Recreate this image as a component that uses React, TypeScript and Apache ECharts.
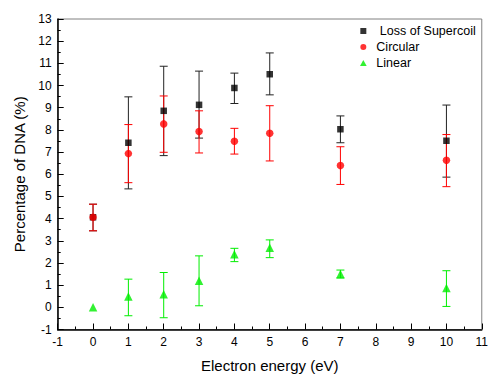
import React, { useEffect, useRef } from "react";
import * as echarts from "echarts";

const energies = [0, 1, 2, 3, 4, 5, 7, 10];
const supercoil = [4.06, 7.42, 8.86, 9.13, 9.89, 10.51, 8.03, 7.51];
const supercoilLow = [3.45, 5.34, 6.84, 7.63, 9.19, 9.58, 7.42, 5.87];
const supercoilHigh = [4.65, 9.49, 10.87, 10.65, 10.56, 11.47, 8.63, 9.12];
const circular = [4.06, 6.93, 8.27, 7.93, 7.49, 7.85, 6.39, 6.63];
const circularLow = [3.45, 5.62, 6.99, 6.96, 6.91, 6.6, 5.54, 5.44];
const circularHigh = [4.65, 8.24, 9.53, 8.86, 8.07, 9.09, 7.24, 7.79];
const linear = [0.0, 0.49, 0.59, 1.2, 2.39, 2.69, 1.5, 0.87];
const linearLow = [0.0, -0.38, -0.47, 0.07, 2.06, 2.24, 1.32, 0.04];
const linearHigh = [0.0, 1.27, 1.57, 2.32, 2.66, 3.04, 1.68, 1.65];

const FONT = "'Liberation Sans', Arial, sans-serif";
const BLACK = "#000000";
const RED = "#ff0000";
const GREEN = "#00ee00";

const ICON_SQUARE = "path://M0,0H10V10H0Z";
const ICON_CIRCLE = "path://M5,0A5,5 0 1,1 5,10A5,5 0 1,1 5,0Z";
const ICON_TRIANGLE = "path://M5,0L10,9L0,9Z";

function errorSeries(name: string, low: number[], high: number[], color: string) {
  return {
    type: "custom",
    name: name + " err",
    silent: true,
    z: 2,
    data: energies.map((x, i) => [x, low[i], high[i]]),
    renderItem: (params: any, api: any) => {
      const x = api.value(0);
      const lo = api.value(1);
      const hi = api.value(2);
      if (lo === hi) return { type: "group", children: [] };
      const pLo = api.coord([x, lo]);
      const pHi = api.coord([x, hi]);
      const hw = 4;
      const style = { stroke: color, lineWidth: 1 };
      return {
        type: "group",
        children: [
          { type: "line", shape: { x1: pLo[0], y1: pLo[1], x2: pHi[0], y2: pHi[1] }, style },
          { type: "line", shape: { x1: pLo[0] - hw, y1: pLo[1], x2: pLo[0] + hw, y2: pLo[1] }, style },
          { type: "line", shape: { x1: pHi[0] - hw, y1: pHi[1], x2: pHi[0] + hw, y2: pHi[1] }, style },
        ],
      };
    },
  };
}

export default function App() {
  const ref = useRef<HTMLDivElement>(null);
  useEffect(() => {
    if (!ref.current) return;
    const chart = echarts.init(ref.current, null, { renderer: "svg" });
    chart.setOption({
      animation: false,
      grid: {
        left: 57.7,
        right: 7,
        top: 19,
        bottom: 45.5,
        show: true,
        borderColor: "#808080",
        borderWidth: 1,
      },
      legend: {
        orient: "vertical",
        left: 360,
        top: 24.5,
        itemWidth: 16,
        itemHeight: 6,
        itemGap: 3,
        padding: 0,
        textStyle: { fontFamily: FONT, fontSize: 12.5, color: "#000" },
        formatter: (n: string) => (n === "Loss of Supercoil" ? " " + n : n),
        data: [
          { name: "Loss of Supercoil", icon: ICON_SQUARE },
          { name: "Circular", icon: ICON_CIRCLE },
          { name: "Linear", icon: ICON_TRIANGLE },
        ],
        selectedMode: false,
      },
      xAxis: {
        type: "value",
        min: -1,
        max: 11,
        interval: 1,
        name: "Electron energy (eV)",
        nameLocation: "middle",
        nameGap: 28.5,
        nameTextStyle: { fontFamily: FONT, fontSize: 15, color: "#000" },
        axisLine: { show: true, onZero: false, lineStyle: { color: "#000", width: 1.5 } },
        axisTick: { show: true, inside: true, length: 6, lineStyle: { color: "#000", width: 1 } },
        minorTick: { show: true, splitNumber: 2, length: 3, lineStyle: { color: "#000", width: 1 } },
        axisLabel: { fontFamily: FONT, fontSize: 12, color: "#000", margin: 6 },
        splitLine: { show: false },
      },
      yAxis: {
        type: "value",
        min: -1,
        max: 13,
        interval: 1,
        name: "Percentage of DNA (%)",
        nameLocation: "middle",
        nameGap: 28,
        nameTextStyle: { fontFamily: FONT, fontSize: 15, color: "#000" },
        axisLine: { show: true, onZero: false, lineStyle: { color: "#000", width: 1.5 } },
        axisTick: { show: true, inside: true, length: 6, lineStyle: { color: "#000", width: 1 } },
        minorTick: { show: true, splitNumber: 2, length: 3, lineStyle: { color: "#000", width: 1 } },
        axisLabel: { fontFamily: FONT, fontSize: 12, color: "#000", margin: 6 },
        splitLine: { show: false },
      },
      series: [
        errorSeries("Loss of Supercoil", supercoilLow, supercoilHigh, "#222"),
        errorSeries("Circular", circularLow, circularHigh, RED),
        errorSeries("Linear", linearLow, linearHigh, GREEN),
        {
          type: "scatter",
          name: "Loss of Supercoil",
          symbol: "rect",
          symbolSize: 6.5,
          z: 3,
          itemStyle: { color: BLACK },
          data: energies.map((x, i) => [x, supercoil[i]]),
        },
        {
          type: "scatter",
          name: "Circular",
          symbol: "circle",
          symbolSize: 7.5,
          z: 4,
          itemStyle: { color: RED },
          data: energies.map((x, i) => [x, circular[i]]),
        },
        {
          type: "scatter",
          name: "Linear",
          symbol: "triangle",
          symbolSize: 8.5,
          z: 5,
          itemStyle: { color: GREEN },
          data: energies.map((x, i) => [x, linear[i]]),
        },
      ],
    });
    return () => chart.dispose();
  }, []);
  return <div ref={ref} style={{ width: 491, height: 378, position: "absolute", left: 0, top: 0 }} />;
}
